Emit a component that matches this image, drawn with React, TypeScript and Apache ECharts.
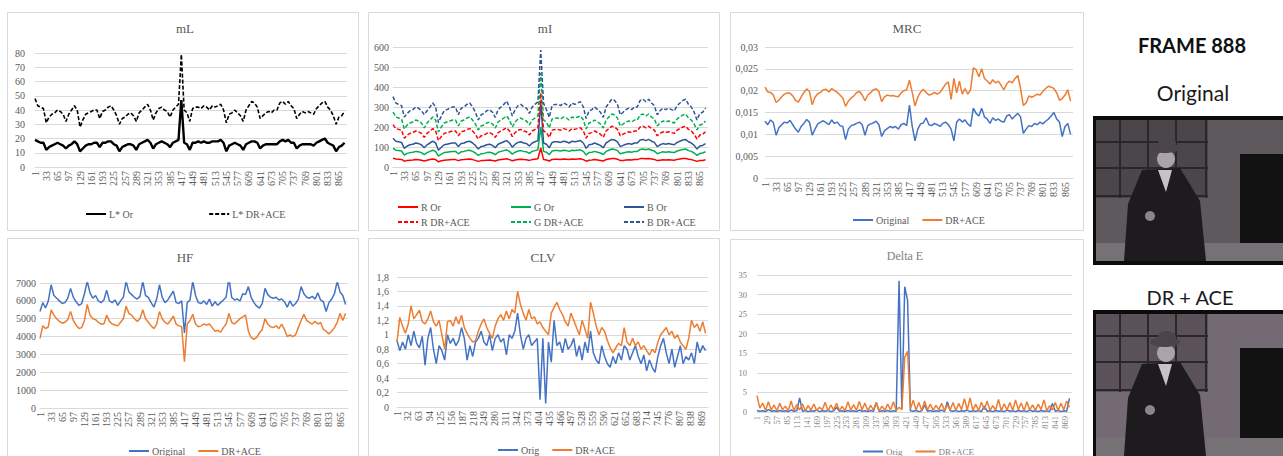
import React, { useEffect, useRef } from 'react'
import * as echarts from 'echarts'

// one category per video frame
const FRAMES = Array.from({ length: 888 }, (_, i) => String(i + 1))
const STEP = 8

// mL
const mlOr = [
  19, 18, 17, 17, 12, 14, 15, 16, 17, 16,
  15, 13, 15, 16, 18, 16, 11, 13, 15, 16,
  16, 17, 17, 14, 17, 17, 18, 18, 16, 15,
  11, 14, 15, 16, 16, 15, 12, 16, 17, 18,
  19, 17, 13, 16, 17, 18, 17, 16, 14, 17,
  18, 19, 47, 17, 16, 12, 17, 17, 18, 17,
  18, 17, 17, 18, 18, 18, 19, 17, 11, 15,
  16, 17, 16, 15, 12, 16, 17, 18, 18, 17,
  13, 15, 16, 16, 16, 16, 16, 18, 19, 18,
  19, 17, 17, 13, 15, 16, 16, 16, 16, 15,
  17, 18, 19, 20, 17, 16, 15, 11, 14, 15,
  17,
]
const mlDr = [
  48, 43, 42, 41, 31, 35, 37, 38, 40, 39,
  37, 32, 37, 40, 43, 40, 28, 33, 37, 38,
  39, 40, 40, 34, 39, 40, 42, 43, 40, 36,
  30, 34, 35, 37, 38, 36, 32, 38, 40, 42,
  44, 40, 33, 38, 41, 42, 40, 39, 35, 40,
  42, 44, 79, 40, 38, 32, 41, 42, 42, 41,
  43, 42, 40, 43, 42, 43, 44, 40, 31, 37,
  38, 40, 38, 36, 32, 40, 43, 46, 45, 42,
  34, 36, 38, 39, 38, 40, 40, 45, 46, 44,
  46, 43, 41, 34, 37, 39, 38, 39, 38, 37,
  41, 43, 45, 46, 42, 40, 36, 30, 35, 36,
  39,
]

// mI
const miROr = [
  44, 40, 39, 38, 29, 33, 34, 35, 37, 36,
  34, 30, 34, 37, 40, 37, 26, 31, 34, 35,
  36, 37, 37, 32, 36, 37, 39, 40, 37, 33,
  28, 32, 33, 34, 35, 33, 30, 35, 37, 39,
  41, 37, 31, 35, 38, 39, 37, 36, 33, 37,
  39, 41, 95, 37, 35, 30, 38, 39, 39, 38,
  40, 39, 37, 40, 39, 40, 41, 37, 29, 34,
  35, 37, 35, 33, 30, 37, 40, 42, 42, 39,
  32, 33, 35, 36, 35, 37, 37, 42, 42, 41,
  42, 40, 38, 32, 34, 36, 35, 36, 35, 34,
  38, 40, 42, 42, 39, 37, 33, 28, 33, 33,
  36,
]
const miGOr = [
  94, 84, 82, 80, 60, 68, 72, 74, 78, 76,
  72, 62, 72, 78, 84, 78, 54, 64, 72, 74,
  76, 78, 78, 66, 76, 78, 82, 84, 78, 70,
  58, 66, 68, 72, 74, 70, 62, 74, 78, 82,
  86, 78, 64, 74, 80, 82, 78, 76, 68, 78,
  82, 86, 200, 78, 74, 62, 80, 82, 82, 80,
  84, 82, 78, 84, 82, 84, 86, 78, 60, 72,
  74, 78, 74, 70, 62, 78, 84, 90, 88, 82,
  66, 70, 74, 76, 74, 78, 78, 88, 90, 86,
  90, 84, 80, 66, 72, 76, 74, 76, 74, 72,
  80, 84, 88, 90, 82, 78, 70, 58, 68, 70,
  76,
]
const miBOr = [
  144, 129, 126, 123, 93, 105, 111, 114, 120, 117,
  111, 96, 111, 120, 129, 120, 84, 99, 111, 114,
  117, 120, 120, 102, 117, 120, 126, 129, 120, 108,
  90, 102, 105, 111, 114, 108, 96, 114, 120, 126,
  132, 120, 99, 114, 123, 126, 120, 117, 105, 120,
  126, 132, 320, 120, 114, 96, 123, 126, 126, 123,
  129, 126, 120, 129, 126, 129, 132, 120, 93, 111,
  114, 120, 114, 108, 96, 120, 129, 138, 135, 126,
  102, 108, 114, 117, 114, 120, 120, 135, 138, 132,
  138, 129, 123, 102, 111, 117, 114, 117, 114, 111,
  123, 129, 135, 138, 126, 120, 108, 90, 105, 108,
  117,
]
const miRDr = [
  212, 192, 188, 184, 144, 160, 168, 172, 180, 176,
  168, 148, 168, 180, 192, 180, 132, 152, 168, 172,
  176, 180, 180, 156, 176, 180, 188, 192, 180, 164,
  140, 156, 160, 168, 172, 164, 148, 172, 180, 188,
  196, 180, 152, 172, 184, 188, 180, 176, 160, 180,
  188, 196, 370, 180, 172, 148, 184, 188, 188, 184,
  192, 188, 180, 192, 188, 192, 196, 180, 144, 168,
  172, 180, 172, 164, 148, 180, 192, 204, 200, 188,
  156, 164, 172, 176, 172, 180, 180, 200, 204, 196,
  204, 192, 184, 156, 168, 176, 172, 176, 172, 168,
  184, 192, 200, 204, 188, 180, 164, 140, 160, 164,
  176,
]
const miGDr = [
  275, 250, 245, 240, 190, 210, 220, 225, 235, 230,
  220, 195, 220, 235, 250, 235, 175, 200, 220, 225,
  230, 235, 235, 205, 230, 235, 245, 250, 235, 215,
  185, 205, 210, 220, 225, 215, 195, 225, 235, 245,
  255, 235, 200, 225, 240, 245, 235, 230, 210, 235,
  245, 255, 470, 235, 225, 195, 240, 245, 245, 240,
  250, 245, 235, 250, 245, 250, 255, 235, 190, 220,
  225, 235, 225, 215, 195, 235, 250, 265, 260, 245,
  205, 215, 225, 230, 225, 235, 235, 260, 265, 255,
  265, 250, 240, 205, 220, 230, 225, 230, 225, 220,
  240, 250, 260, 265, 245, 235, 215, 185, 210, 215,
  230,
]
const miBDr = [
  352, 320, 313, 307, 250, 268, 281, 287, 300, 294,
  281, 262, 281, 300, 320, 300, 222, 255, 281, 287,
  294, 300, 300, 261, 294, 300, 313, 320, 300, 274,
  235, 261, 268, 281, 287, 274, 248, 287, 300, 313,
  330, 300, 255, 287, 307, 313, 300, 294, 268, 300,
  313, 326, 585, 318, 287, 248, 307, 313, 313, 307,
  320, 313, 300, 320, 313, 320, 326, 300, 242, 281,
  287, 300, 287, 274, 248, 300, 320, 339, 333, 313,
  261, 274, 287, 294, 287, 300, 300, 333, 339, 326,
  339, 320, 307, 261, 281, 294, 287, 294, 287, 281,
  307, 320, 333, 339, 313, 300, 274, 235, 268, 274,
  294,
]

// MRC
const mrcOr = [
  0.013, 0.0122, 0.0133, 0.0127, 0.0098, 0.0115, 0.0122, 0.0128, 0.0126, 0.0132,
  0.0122, 0.0112, 0.0105, 0.0118, 0.0125, 0.0134, 0.0128, 0.0098, 0.0112, 0.0124,
  0.0128, 0.0131, 0.0127, 0.0122, 0.0133, 0.0125, 0.0128, 0.012, 0.0118, 0.0088,
  0.0112, 0.012, 0.0122, 0.0125, 0.0128, 0.0122, 0.0098, 0.012, 0.0124, 0.0126,
  0.013, 0.0122, 0.0095, 0.0108, 0.0113, 0.0118, 0.0115, 0.0118, 0.0112, 0.0122,
  0.0125, 0.012, 0.0167, 0.0118, 0.0085, 0.0112, 0.0124, 0.0126, 0.0138, 0.0122,
  0.012, 0.0125, 0.0122, 0.0118, 0.0125, 0.0128, 0.0122, 0.0112, 0.0085, 0.0128,
  0.0135, 0.0128, 0.0133, 0.0124, 0.0118, 0.016, 0.0148, 0.0142, 0.016, 0.014,
  0.0135, 0.0125, 0.0138, 0.0132, 0.0135, 0.013, 0.0128, 0.0142, 0.0145, 0.0135,
  0.0142, 0.0148, 0.014, 0.0102, 0.0112, 0.012, 0.0118, 0.0125, 0.0122, 0.0128,
  0.0124, 0.013, 0.0135, 0.0142, 0.015, 0.0135, 0.0128, 0.0095, 0.0118, 0.0125,
  0.01,
]
const mrcDr = [
  0.0208, 0.0197, 0.0196, 0.019, 0.0173, 0.0178, 0.0186, 0.0192, 0.0195, 0.0194,
  0.0188, 0.0178, 0.0174, 0.0185, 0.0196, 0.0204, 0.0198, 0.0168, 0.0185, 0.0193,
  0.0196, 0.0202, 0.0203, 0.0197, 0.0205, 0.02, 0.0196, 0.019, 0.0183, 0.0164,
  0.0176, 0.0183, 0.0188, 0.0196, 0.0198, 0.019, 0.0177, 0.019, 0.0195, 0.0202,
  0.0204, 0.0198, 0.0175, 0.0186, 0.019, 0.0188, 0.0189, 0.0187, 0.0186, 0.0195,
  0.02, 0.0202, 0.0224, 0.0196, 0.0165, 0.0185, 0.0197, 0.0203, 0.0196, 0.019,
  0.0192, 0.0196, 0.0192, 0.0196, 0.0205, 0.0215, 0.022, 0.018, 0.0228, 0.0195,
  0.0222, 0.0192, 0.0205, 0.0192, 0.0202, 0.0252, 0.0248, 0.0232, 0.025, 0.0228,
  0.0222, 0.0215, 0.0225, 0.0218, 0.0222, 0.0212, 0.0202, 0.0215, 0.0222, 0.0218,
  0.0228, 0.0235, 0.0205, 0.0166, 0.0172, 0.0188, 0.0185, 0.0188, 0.0192, 0.019,
  0.0198, 0.0205, 0.021, 0.0208, 0.0205, 0.0195, 0.0178, 0.0182, 0.019, 0.0202,
  0.0176,
]

// HF
const hfOr = [
  5400, 5900, 5600, 6000, 6900, 6300, 6150, 6000, 5850, 5900,
  6150, 6700, 6200, 5950, 5750, 5850, 6400, 7100, 6450, 6150,
  6300, 6000, 5900, 6050, 6600, 6000, 5900, 6050, 5750, 6000,
  6200, 7100, 6500, 6350, 6200, 6100, 6250, 7100, 6300, 6200,
  5900, 5650, 6100, 6900, 6200, 5900, 6050, 6300, 6550, 5900,
  5850, 6000, 4200, 5900, 6050, 7100, 6300, 5900, 5850, 6000,
  5800, 6100, 5700, 5950, 5750, 5900, 6050, 6200, 7300, 6200,
  6050, 6100, 6000, 6400, 6350, 6800, 6200, 5900, 5700, 5600,
  5850, 6700, 6350, 6200, 6150, 6200, 6050, 6100, 5950, 5650,
  6000, 5700, 5850, 6100, 6800, 6400, 6200, 6150, 6250, 6100,
  6450, 6050, 5950, 5400, 5900, 6100, 6400, 7100, 6500, 6300,
  5800,
]
const hfDr = [
  3900, 4600, 4450, 4550, 5500, 5200, 5000, 4850, 4750, 4800,
  4950, 5400, 4900, 4650, 4450, 4500, 4900, 5800, 5200, 5000,
  4950, 4800, 4700, 4700, 5200, 4850, 4700, 4650, 4600, 4800,
  5000, 5700, 5300, 5200, 5000, 4850, 5000, 5500, 5000, 4800,
  4600, 4450, 4700, 5400, 5000, 4800, 4700, 4900, 5150, 4700,
  4600, 4550, 2600, 4700, 4900, 5250, 4700, 4550, 4600, 4700,
  4650, 4700, 4500, 4300, 4350, 4250, 4500, 4700, 5300, 4800,
  4700, 4850, 5000, 5100, 5200, 4300, 3950, 3850, 3950, 4200,
  4400, 5000, 4700, 4550, 4500, 4600, 4450, 4700, 4400, 4000,
  4100, 4000, 4100, 4500, 4900, 5250, 4900, 4800, 4700, 4850,
  4700, 4800, 4400, 4300, 4150, 4300, 4500, 4800, 5300, 4900,
  5300,
]

// CLV
const clvOr = [
  0.92, 0.78, 0.9, 0.8, 1.0, 0.85, 1.05, 0.88, 0.82, 0.98,
  0.58, 0.95, 1.1, 0.8, 0.6, 0.85, 0.78, 0.65, 1.0, 0.88,
  0.95, 0.85, 0.92, 1.1, 0.95, 0.65, 0.85, 0.7, 0.9, 0.95,
  1.05, 0.9, 0.85, 1.0, 0.78, 0.95, 1.0, 0.9, 0.95, 0.72,
  1.0, 0.95, 1.05, 1.3, 1.0, 0.8, 0.95, 1.0, 0.85, 0.9,
  0.95, 0.1, 0.95, 0.05, 0.9, 0.62, 1.2, 0.85, 0.9, 0.75,
  0.95, 0.8, 0.85, 0.95, 0.7, 0.85, 0.65, 0.9, 0.75, 1.05,
  0.75, 0.65, 0.6, 0.85, 0.7, 0.6, 0.55, 0.7, 0.6, 0.75,
  0.65, 0.85, 0.8, 0.65, 0.75, 0.85, 0.7, 0.6, 0.72, 0.5,
  0.65, 0.55, 0.48, 0.7, 0.85, 0.95, 0.75, 0.6, 0.8, 0.55,
  0.7, 0.85, 0.6, 0.7, 0.65, 0.75, 0.6, 0.9, 0.75, 0.85,
  0.78,
]
const clvDr = [
  0.9, 1.24, 1.12, 1.02, 1.15, 1.4, 1.22, 1.28, 1.34, 1.18,
  1.15, 1.22, 1.33, 1.18, 1.12, 1.2, 1.0, 0.8, 1.18, 1.2,
  1.12, 1.25, 1.15, 1.27, 1.1, 1.02, 0.95, 0.9, 0.92, 1.05,
  1.15, 1.22, 1.1, 1.02, 0.95, 1.12, 1.22, 1.28, 1.2, 1.33,
  1.22, 1.35, 1.3, 1.6, 1.42, 1.3, 1.2, 1.35, 1.22, 1.25,
  1.15, 1.18, 1.1, 1.05, 1.0, 1.3, 1.38, 1.45, 1.35, 1.28,
  1.18, 1.12, 1.3, 1.2, 1.1, 1.0, 1.2, 1.08, 0.95, 1.45,
  1.3, 1.12, 1.0, 1.1, 1.05, 0.92, 0.82, 0.75, 0.82, 0.88,
  0.85, 1.1, 0.9, 0.85, 0.95, 0.85, 0.9, 0.8, 0.85, 0.78,
  0.72, 0.8, 0.75, 0.9, 1.0, 1.05, 1.1, 1.0, 1.05, 0.95,
  1.0, 0.9, 0.85, 0.8, 0.95, 1.2, 1.1, 1.15, 1.05, 1.18,
  1.02,
]

// Delta E
const deOr = [
  0.4, 0.2, 0.3, 0.1, 0.6, 0.2, 0.3, 0.1, 0.4, 0.2,
  0.3, 0.1, 0.5, 0.2, 0.3, 3.6, 0.2, 0.4, 0.1, 0.3,
  0.2, 0.5, 0.1, 0.3, 0.2, 0.4, 0.1, 0.3, 1.2, 0.2,
  0.3, 0.1, 0.4, 0.2, 0.3, 0.1, 0.5, 0.2, 0.3, 0.1,
  0.4, 0.2, 2.4, 0.1, 0.3, 0.2, 0.4, 0.1, 0.3, 0.2,
  33.5, 0.8, 32, 28.5, 0.3, 0.2, 0.4, 0.1, 0.3, 1.8,
  0.2, 0.4, 0.1, 0.3, 0.2, 0.5, 0.1, 2.6, 0.3, 0.2,
  0.4, 0.1, 0.3, 0.2, 0.5, 0.1, 0.3, 0.2, 0.4, 0.1,
  1.5, 0.2, 0.3, 0.1, 0.4, 0.2, 0.3, 0.1, 0.5, 0.2,
  0.3, 0.1, 0.4, 0.2, 0.3, 0.1, 0.5, 0.2, 0.3, 0.1,
  0.4, 0.2, 0.3, 0.1, 2.2, 0.2, 0.4, 0.1, 0.3, 0.2,
  3.5,
]
const deDr = [
  4.2, 1.0, 2.3, 0.4, 2.6, 0.5, 1.8, 0.3, 2.2, 0.6,
  1.5, 0.3, 2.8, 0.4, 1.9, 0.5, 2.1, 0.3, 1.6, 0.5,
  2.0, 0.4, 1.2, 0.6, 2.5, 0.3, 1.8, 0.5, 2.2, 0.4,
  1.4, 0.3, 2.6, 0.5, 1.9, 0.4, 2.7, 0.6, 2.3, 0.3,
  1.7, 0.5, 2.4, 0.3, 1.5, 0.4, 2.0, 0.5, 2.6, 0.4,
  1.2, 0.6, 14.0, 15.5, 0.8, 3.0, 0.5, 2.4, 0.3, 2.8,
  0.5, 2.0, 0.4, 1.7, 0.6, 2.2, 0.3, 1.9, 0.5, 2.4,
  0.4, 2.2, 0.6, 3.4, 0.5, 3.6, 0.4, 2.0, 0.3, 2.5,
  0.6, 2.8, 0.4, 1.6, 0.5, 3.2, 0.3, 2.1, 0.5, 2.4,
  0.4, 3.1, 0.6, 2.3, 0.3, 2.6, 0.5, 1.8, 0.4, 2.0,
  0.6, 3.1, 0.3, 1.6, 0.5, 2.4, 0.4, 2.2, 0.6, 2.8,
  1.2,
]

const SERIF = "'Liberation Serif', 'Times New Roman', serif"
const SANS = "Lato, 'Open Sans', sans-serif"
const TXT = '#595959'
const LIGHT = '#7f7f7f'
const RULE = '#d9d9d9'
const BLUE = '#4472c4'
const ORANGE = '#ed7d31'
const RED = '#ff0000'
const GREEN = '#00b050'
const NAVY = '#2f5597'

// plot areas: [left, top, width, height]
const PANELS = [
  { title: 'mL', tx: 185, ty: 28, grid: [35, 53, 312, 114], max: 80, step: 10, every: 32, lm: 10 },
  { title: 'mI', tx: 545, ty: 28, grid: [393, 47, 315, 120], max: 600, step: 100, every: 32, lm: 4 },
  { title: 'MRC', tx: 907, ty: 28, grid: [765, 47, 308, 131], max: 0.03, step: 0.005, every: 32, lm: 7, comma: true },
  { title: 'HF', tx: 185, ty: 257, grid: [40, 283, 308, 125], max: 7000, step: 1000, every: 32, lm: 4 },
  { title: 'CLV', tx: 543, ty: 257, grid: [397, 277, 311, 130], max: 1.8, step: 0.2, every: 31, lm: 8, comma: true },
  { title: 'Delta E', tx: 905, ty: 256, grid: [757, 275, 315, 137], max: 35, step: 5, every: 28, lm: 10, light: true },
]

const LINES = [
  { p: 0, name: 'L* Or', data: mlOr, color: '#000', width: 2.4 },
  { p: 0, name: 'L* DR+ACE', data: mlDr, color: '#000', width: 1.6, dash: true },
  { p: 1, name: 'R Or', data: miROr, color: RED },
  { p: 1, name: 'G Or', data: miGOr, color: GREEN },
  { p: 1, name: 'B Or', data: miBOr, color: NAVY },
  { p: 1, name: 'R DR+ACE', data: miRDr, color: RED, dash: true },
  { p: 1, name: 'G DR+ACE', data: miGDr, color: GREEN, dash: true },
  { p: 1, name: 'B DR+ACE', data: miBDr, color: NAVY, dash: true },
  { p: 2, name: 'Original', data: mrcOr, color: BLUE },
  { p: 2, name: 'DR+ACE', data: mrcDr, color: ORANGE },
  { p: 3, name: 'Original', data: hfOr, color: BLUE },
  { p: 3, name: 'DR+ACE', data: hfDr, color: ORANGE },
  { p: 4, name: 'Orig', data: clvOr, color: BLUE },
  { p: 4, name: 'DR+ACE', data: clvDr, color: ORANGE },
  { p: 5, name: 'Orig', data: deOr, color: BLUE },
  { p: 5, name: 'DR+ACE', data: deDr, color: ORANGE },
]

const LEGENDS = [
  { data: ['L* Or', 'L* DR+ACE'], left: 80, top: 204, itemGap: 75 },
  { data: ['R Or', 'R DR+ACE'], left: 392, top: 197, orient: 'vertical', itemGap: 5 },
  { data: ['G Or', 'G DR+ACE'], left: 505, top: 197, orient: 'vertical', itemGap: 5 },
  { data: ['B Or', 'B DR+ACE'], left: 618, top: 197, orient: 'vertical', itemGap: 5 },
  { data: ['Original', 'DR+ACE'], left: 847, top: 210, itemGap: 12 },
  { data: ['Original', 'DR+ACE'], left: 123, top: 441, itemGap: 12 },
  { data: ['Orig', 'DR+ACE'], left: 492, top: 440, itemGap: 12 },
  { data: ['Orig', 'DR+ACE'], left: 857, top: 442, itemGap: 12, light: true },
]

const pts = (vals: number[]) => vals.map((v, i) => [i * STEP, v])
const fmt = (comma: boolean) => (v: number) => {
  const s = String(Number(v.toFixed(4)))
  return comma ? s.replace('.', ',') : s
}

const centerText = (text: string, x: number, y: number, font: string, fill: string) => ({
  type: 'text',
  x,
  y,
  style: { text, font, fill, align: 'center', verticalAlign: 'middle', textAlign: 'center', textVerticalAlign: 'middle' },
})

// rough stand-in for the film still
const still = (top: number, h: number, wall: string, tone: string) => {
  const y = (v: number) => top + v
  return [
    { type: 'rect', shape: { x: 1093, y: top, width: 190, height: h }, style: { fill: '#0d0c0d' } },
    { type: 'rect', shape: { x: 1096, y: y(4), width: 187, height: h - 8 }, style: { fill: wall } },
    { type: 'rect', shape: { x: 1096, y: y(4), width: 112, height: 78 }, style: { fill: tone } },
    ...[1120, 1148, 1176, 1206].map((x) => ({
      type: 'line', shape: { x1: x, y1: y(4), x2: x, y2: y(82) }, style: { stroke: '#2a272a', lineWidth: 2 },
    })),
    ...[26, 52, 80].map((d) => ({
      type: 'line', shape: { x1: 1096, y1: y(d), x2: 1208, y2: y(d) }, style: { stroke: '#2a272a', lineWidth: 2 },
    })),
    { type: 'rect', shape: { x: 1240, y: y(38), width: 43, height: h - 42 }, style: { fill: '#131213' } },
    { type: 'rect', shape: { x: 1096, y: y(h - 22), width: 187, height: 18 }, style: { fill: '#767175' } },
    {
      type: 'polygon',
      shape: { points: [[1142, y(54)], [1180, y(52)], [1200, y(85)], [1206, y(h - 4)], [1124, y(h - 4)], [1128, y(88)]] },
      style: { fill: '#1d1b1d' },
    },
    { type: 'polygon', shape: { points: [[1158, y(54)], [1172, y(54)], [1166, y(76)]] }, style: { fill: '#c8c2c6' } },
    { type: 'circle', shape: { cx: 1166, cy: y(43), r: 9 }, style: { fill: '#aaa3a7' } },
    { type: 'ellipse', shape: { cx: 1165, cy: y(32), rx: 15, ry: 5 }, style: { fill: '#4a4548' } },
    { type: 'ellipse', shape: { cx: 1167, cy: y(27), rx: 9, ry: 6 }, style: { fill: '#4a4548' } },
    { type: 'circle', shape: { cx: 1150, cy: y(100), r: 5 }, style: { fill: '#8b8488' } },
  ]
}

const buildOption = () => {
  const grid = PANELS.map((p) => ({ left: p.grid[0], top: p.grid[1], width: p.grid[2], height: p.grid[3] }))
  const xAxis = PANELS.map((p, i) => ({
    gridIndex: i,
    type: 'category',
    data: FRAMES,
    boundaryGap: false,
    axisLine: { lineStyle: { color: RULE } },
    axisTick: { show: false },
    splitLine: { show: false },
    axisLabel: {
      interval: p.every - 1,
      rotate: 90,
      margin: 4,
      fontFamily: SERIF,
      fontSize: p.light ? 8.5 : 10,
      color: p.light ? LIGHT : TXT,
    },
  }))
  const yAxis = PANELS.map((p, i) => ({
    gridIndex: i,
    type: 'value',
    min: 0,
    max: p.max,
    interval: p.step,
    axisLine: { show: false },
    axisTick: { show: false },
    splitLine: { lineStyle: { color: RULE } },
    axisLabel: {
      margin: p.lm,
      fontFamily: SERIF,
      fontSize: p.light ? 8.5 : 10,
      color: p.light ? LIGHT : TXT,
      formatter: fmt(!!p.comma),
    },
  }))
  const series = LINES.map((l) => ({
    type: 'line',
    name: l.name,
    xAxisIndex: l.p,
    yAxisIndex: l.p,
    data: pts(l.data),
    symbol: 'none',
    showSymbol: false,
    itemStyle: { color: l.color },
    lineStyle: { color: l.color, width: l.width ?? 1.5, type: l.dash ? [4, 2] : 'solid' },
  }))
  const legend = LEGENDS.map((g) => ({
    data: g.data,
    left: g.left,
    top: g.top,
    orient: g.orient ?? 'horizontal',
    itemGap: g.itemGap,
    itemWidth: 20,
    itemHeight: 10,
    // line series put a marker in the middle of the key: hide it, keep the line
    itemStyle: { opacity: 0 },
    textStyle: { fontFamily: SERIF, fontSize: g.light ? 9 : 10, color: g.light ? LIGHT : TXT, padding: [0, 0, 0, -2] },
  }))

  const boxes = [
    [7.5, 12.5, 351, 218],
    [368.5, 12.5, 351, 218],
    [730.5, 12.5, 353, 218],
    [7.5, 238.5, 351, 240],
    [368.5, 238.5, 351, 240],
    [730.5, 239.5, 353, 240],
  ].map(([x, y, width, height]) => ({
    type: 'rect',
    shape: { x, y, width, height },
    style: { fill: 'none', stroke: RULE, lineWidth: 1 },
  }))
  const titles = PANELS.map((p) =>
    centerText(p.title, p.tx, p.ty, `${p.light ? 12 : 13}px ${SERIF}`, p.light ? LIGHT : TXT),
  )

  return {
    animation: false,
    backgroundColor: '#fff',
    grid,
    xAxis,
    yAxis,
    series,
    legend,
    graphic: [
      ...boxes,
      ...titles,
      centerText('FRAME 888', 1192, 45, `bold 20px ${SANS}`, '#111'),
      centerText('Original', 1193, 92, `21px ${SANS}`, '#1a1a1a'),
      ...still(116, 149, '#5e595d', '#4a4649'),
      centerText('DR + ACE', 1190, 297, `20px ${SANS}`, '#1a1a1a'),
      ...still(310, 150, '#746a73', '#5b5259'),
    ],
  }
}

const App = () => {
  const chartRef = useRef<HTMLDivElement>(null)

  useEffect(() => {
    if (!chartRef.current) return
    const chart = echarts.init(chartRef.current, undefined, { renderer: 'svg' })
    chart.setOption(buildOption() as any)
    return () => {
      chart.dispose()
    }
  }, [])

  return (
    <div
      ref={chartRef}
      style={{ position: 'absolute', left: 0, top: 0, width: 1283, height: 456, background: '#fff' }}
    />
  )
}

export default App
